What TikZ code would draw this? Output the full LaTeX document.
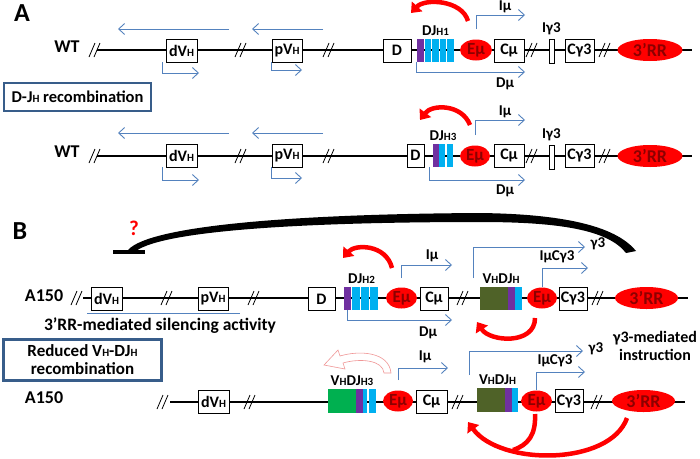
\documentclass[tikz,border=0pt]{standalone}
\usepackage{fontspec}
\setmainfont{Carlito}
\usetikzlibrary{positioning}
\usetikzlibrary{shapes.geometric}
\usetikzlibrary{calc}
\usetikzlibrary{arrows.meta}
\definecolor{txblue}{RGB}{84,130,190}
\definecolor{enhtext}{RGB}{140,0,0}
\definecolor{djpurple}{RGB}{112,48,160}
\definecolor{djcyan}{RGB}{0,176,240}
\definecolor{vholive}{RGB}{79,98,40}
\definecolor{vhgreen}{RGB}{0,176,80}
\definecolor{boxblue}{RGB}{56,93,138}
\definecolor{fadedred}{RGB}{240,150,150}
\newcommand{\sm}[1]{{\fontsize{11}{11}\selectfont #1}}
\tikzset{
	gene/.style={draw, line width=0.8pt, fill=white, minimum height=23pt, inner sep=1pt, font=\fontsize{16}{16}\selectfont\bfseries},
	enh/.style={ellipse, fill=red, text=enhtext, inner sep=0pt, minimum height=21pt, font=\fontsize{17}{17}\selectfont\bfseries},
	lbl/.style={inner sep=0pt, font=\fontsize{15}{15}\selectfont\bfseries},
	big/.style={inner sep=0pt, font=\fontsize{18}{18}\selectfont\bfseries},
	seg/.style={inner sep=0pt, minimum height=23pt},
	tx/.style={draw=txblue, line width=0.9pt, -{Straight Barb[length=6pt,width=11pt]}},
	redarr/.style={draw=red, line width=4.5pt, -{Triangle[length=9pt,width=14pt]}},
	chr/.style={line width=1.6pt},
	panel/.style={draw=boxblue, line width=2.5pt, inner sep=0pt, align=center, font=\fontsize{17}{18}\selectfont\bfseries},
	rrnode/.style={enh, minimum height=22pt, font=\fontsize{18}{18}\selectfont\bfseries},
	brk/.pic={\draw[line width=0.8pt] (-6,7) -- (0,-7) (-1,7) -- (5,-7);}
}

\begin{document}
\begin{tikzpicture}[x=1pt,y=-1pt]
	\path[use as bounding box, fill=white] (0,0) rectangle (700,458);

	\node[inner sep=0pt, font=\fontsize{26}{26}\selectfont\bfseries] (secA) at (22,13) {A};
	\node[panel, minimum width=147pt, minimum height=28pt, font=\fontsize{16.5}{18}\selectfont\bfseries] (boxA) at (77.5,97) {D-J\sm{H} recombination};

	\node[big] (wt1) at (67,47) {WT};
	\draw[chr] (97,50) -- (692,50);
	\foreach \x in {95,241,329,532,605} \pic at (\x,50) {brk};
	\node[gene, minimum width=31pt] (dvh1) at (181.5,50.5) {dV\sm{H}};
	\node[gene, minimum width=30pt] (pvh1) at (287,50.5) {pV\sm{H}};
	\node[gene, minimum width=28pt] (d1) at (397,50.5) {D};
	\node[seg, minimum width=37pt] (dj1) at (435.5,50.5) {};
	\fill[djpurple] (417,39) rectangle (424,62);
	\foreach \i in {0,...,3} \fill[djcyan] ({424.5+7.5*\i},39) rectangle ++(6.5,23);
	\node[lbl, above=3pt of dj1] (djl1) {DJ\sm{H1}};
	\node[enh, minimum width=32pt] (emu1) at (476,50) {Eμ};
	\node[gene, minimum width=30pt] (cmu1) at (509,50.5) {Cμ};
	\node[draw, line width=0.8pt, fill=white, minimum width=5pt, minimum height=24pt, inner sep=0pt] (ig1) at (551.5,51) {};
	\node[lbl, above=4pt of ig1] (igl1) {Iγ3};
	\node[gene, minimum width=29pt] (cg1) at (579.5,50.5) {Cγ3};
	\node[rrnode, minimum width=65pt] (rr1) at (650,50) {3’RR};
	\draw[tx] (229,29) -- (118,29);
	\draw[tx] (323,29) -- (252,29);
	\draw[tx] ([xshift=-3pt]dvh1.south west) |- (199,73);
	\draw[tx] (pvh1.south west) |- (302,70);
	\draw[tx] (emu1.north |- 0,29) |- (525,15);
	\node[lbl] (iml1) at (505,7) {Iμ};
	\draw[tx] (dj1.south west) |- (525,72);
	\node[lbl] (dml1) at (505,84) {Dμ};
	\draw[redarr] (468,21) .. controls (462,0) and (425,-2) .. (411,13);

	\node[big] (wt2) at (67,152) {WT};
	\draw[chr] (97,156) -- (692,156);
	\foreach \x in {95,241,329,532,605} \pic at (\x,156) {brk};
	\node[gene, minimum width=31pt] (dvh2) at (181.5,155.5) {dV\sm{H}};
	\node[gene, minimum width=30pt] (pvh2) at (287,155.5) {pV\sm{H}};
	\node[gene, minimum width=17pt] (d2) at (415.5,155.5) {D};
	\node[seg, minimum width=20pt] (dj2) at (443,155.5) {};
	\fill[djpurple] (433,144) rectangle (439,167);
	\fill[djcyan] (439,144) rectangle (445,167);
	\fill[djcyan] (446.5,144) rectangle (453,167);
	\node[lbl, above=3pt of dj2] (djl2) {DJ\sm{H3}};
	\node[enh, minimum width=30pt] (emu2) at (475,156) {Eμ};
	\node[gene, minimum width=30pt] (cmu2) at (509,155.5) {Cμ};
	\node[draw, line width=0.8pt, fill=white, minimum width=5pt, minimum height=24pt, inner sep=0pt] (ig2) at (551.5,157) {};
	\node[lbl, above=4pt of ig2] (igl2) {Iγ3};
	\node[gene, minimum width=29pt] (cg2) at (579.5,155.5) {Cγ3};
	\node[rrnode, minimum width=65pt] (rr2) at (650,156) {3’RR};
	\draw[tx] (229,133) -- (118,133);
	\draw[tx] (323,133) -- (252,133);
	\draw[tx] ([xshift=-3pt]dvh2.south west) |- (199,180);
	\draw[tx] (pvh2.south west) |- (302,178);
	\draw[tx] (emu2.north |- 0,135) |- (525,120);
	\node[lbl] (iml2) at (505,112) {Iμ};
	\draw[tx] ([xshift=-3pt]dj2.south west) |- (525,180);
	\node[lbl] (dml2) at (505,191) {Dμ};
	\draw[redarr] (470,125) .. controls (462,104) and (432,104) .. (420,120);

	\node[inner sep=0pt, font=\fontsize{26}{26}\selectfont\bfseries] (secB) at (20,231) {B};
	\node[inner sep=0pt, text=red, font=\fontsize{21}{21}\selectfont\bfseries] (qm) at (134,228) {?};
	\draw[line width=4pt] (113,252) -- (145,252);
	\fill (128,250) .. controls (150,225) and (300,214) .. (480,213) .. controls (560,214) and (615,225) .. (636,251)
		-- (626,253) .. controls (608,230) and (560,222) .. (480,222) .. controls (310,222) and (165,230) .. (136,251) -- cycle;
	\node[panel, minimum width=158pt, minimum height=41pt] (boxB) at (82.5,360) {Reduced V\sm{H}-DJ\sm{H}\\recombination};

	\node[big] (a1) at (44,296) {A150};
	\draw[chr] (83,298) -- (688,298);
	\foreach \x in {77,167,254,463,598} \pic at (\x,298) {brk};
	\node[gene, minimum width=31pt] (dvh3) at (106.5,299) {dV\sm{H}};
	\node[gene, minimum width=30pt] (pvh3) at (213,299) {pV\sm{H}};
	\node[gene, minimum width=27pt] (d3) at (321.5,299) {D};
	\draw[txblue, line width=0.8pt] (87,313) -- (240,313);
	\node[lbl, font=\fontsize{17.5}{17.5}\selectfont\bfseries] (sil) at (160,326) {3’RR-mediated silencing activity};
	\node[seg, minimum width=35pt] (dj3) at (361.5,298.5) {};
	\fill[djpurple] (344,287) rectangle (351,310);
	\foreach \i in {0,...,2} \fill[djcyan] ({351.5+9.3*\i},287) rectangle ++(8.3,23);
	\node[lbl, above=3pt of dj3] (djl3) {DJ\sm{H2}};
	\node[enh, minimum width=31pt] (emu3) at (401.5,298) {Eμ};
	\node[gene, minimum width=28pt] (cmu3) at (434,298.5) {Cμ};
	\node[seg, minimum width=42pt] (vdj3) at (501,298.5) {};
	\fill[vholive] (480,287) rectangle (508,310);
	\fill[djpurple] (508,287) rectangle (515,310);
	\fill[djcyan] (515,287) rectangle (522,310);
	\node[lbl, above=3pt of vdj3] (vdjl3) {V\sm{H}DJ\sm{H}};
	\node[enh, minimum width=30pt] (emu4) at (542,298) {Eμ};
	\node[gene, minimum width=28pt] (cg3) at (573,298.5) {Cγ3};
	\node[rrnode, minimum width=63pt] (rr3) at (646.5,298) {3’RR};
	\draw[redarr] (392,268) .. controls (386,244) and (355,244) .. (343,258);
	\draw[tx] (emu3.north |- 0,278) |- (452,265);
	\node[lbl] (iml3) at (432,256) {Iμ};
	\draw[tx] ([xshift=4pt]dj3.south west) |- (452,320);
	\node[lbl] (dml3) at (428,333) {Dμ};
	\draw[tx] ([xshift=-6pt]vdj3.north west |- 0,278) |- (585,247);
	\node[lbl] (g1) at (598,244) {γ3};
	\draw[tx] (emu4.north) |- (588,268);
	\node[lbl] (ic1) at (557,257) {IμCγ3};
	\draw[redarr] (535,318) .. controls (535,345) and (490,342) .. (477,322);
	\node[lbl, align=center, font=\fontsize{16}{18}\selectfont\bfseries] (instr) at (655,346) {γ3-mediated\\instruction};

	\node[big] (a2) at (44,398) {A150};
	\draw[chr] (170,402) -- (685,402);
	\foreach \x in {163,250,458,597} \pic at (\x,402) {brk};
	\node[gene, minimum width=31pt] (dvh4) at (213.5,401.5) {dV\sm{H}};
	\node[seg, minimum width=48pt, minimum height=24pt] (vdj4) at (352,401) {};
	\fill[vhgreen] (328,389) rectangle (356,413);
	\fill[djpurple] (356,389) rectangle (363,413);
	\fill[djcyan] (363,389) rectangle (367,413);
	\fill[djcyan] (368.5,389) rectangle (376,413);
	\node[lbl, above=3pt of vdj4] (vdjl4) {V\sm{H}DJ\sm{H3}};
	\node[enh, minimum width=30pt] (emu5) at (398,401) {Eμ};
	\node[gene, minimum width=31pt] (cmu4) at (431.5,401.5) {Cμ};
	\node[seg, minimum width=41pt, minimum height=24pt] (vdj5) at (497.5,400) {};
	\fill[vholive] (477,388) rectangle (505,412);
	\fill[djpurple] (505,388) rectangle (512,412);
	\fill[djcyan] (512,388) rectangle (518,412);
	\node[lbl, above=3pt of vdj5] (vdjl5) {V\sm{H}DJ\sm{H}};
	\node[enh, minimum width=31pt] (emu6) at (536.5,401) {Eμ};
	\node[gene, minimum width=28pt] (cg4) at (569,401) {Cγ3};
	\node[rrnode, minimum width=63pt] (rr4) at (643.5,401) {3’RR};
	\filldraw[draw=fadedred, fill=white, line width=0.6pt] (391,373) .. controls (389,352) and (360,350) .. (340,356)
		-- (338,350) -- (324,365) -- (345,369) -- (343,363) .. controls (360,358) and (383,360) .. (384,373) -- cycle;
	\draw[tx] (emu5.north |- 0,380) |- (448,368);
	\node[lbl] (iml4) at (425,357) {Iμ};
	\draw[tx] ([xshift=-7pt]vdj5.north west |- 0,375) |- (583,351);
	\node[lbl] (g2) at (596,349) {γ3};
	\draw[tx] (emu6.north) |- (585,372);
	\node[lbl] (ic2) at (555,361) {IμCγ3};
	\draw[redarr] (627,418) .. controls (610,466) and (500,466) .. (468,422);
	\draw[draw=red, line width=4.5pt] (535,414) .. controls (536,435) and (528,445) .. (513,450);
\end{tikzpicture}
\end{document}
